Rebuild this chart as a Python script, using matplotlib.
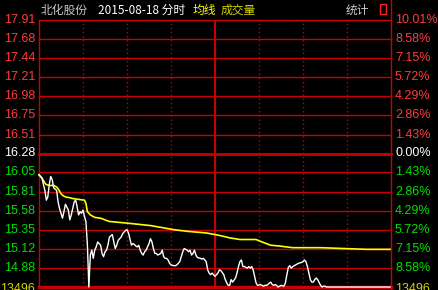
import matplotlib
matplotlib.use("Agg")
import matplotlib.pyplot as plt
from matplotlib.lines import Line2D
from matplotlib.patches import Rectangle

# ---- data ----
stock_name = "北化股份"
trade_date = "2015-08-18 分时"
pre_close = 16.28
limit_up = 17.91
limit_down = 14.65

price_labels = ["17.91", "17.68", "17.44", "17.21", "16.98", "16.75", "16.51",
                "16.28",
                "16.05", "15.81", "15.58", "15.35", "15.12", "14.88"]
pct_labels = ["10.01%", "8.58%", "7.15%", "5.72%", "4.29%", "2.86%", "1.43%",
              "0.00%",
              "1.43%", "2.86%", "4.29%", "5.72%", "7.15%", "8.58%"]
vol_label = "13496"

# minute index (0..240) and last price
price_t = [0, 2, 4, 5, 6, 7, 8, 9, 10, 12, 13, 14, 16, 17, 18, 20, 21, 22, 23, 24,
           25, 26, 27, 28, 29, 30, 31, 32, 33, 34, 35, 36, 37, 38, 39, 40, 42, 43, 44,
           45, 46, 47, 48, 50, 51, 52, 53, 54, 55, 56, 57, 58, 59, 60, 61, 62, 63, 64,
           65, 66, 67, 68, 69, 70, 71, 72, 73, 74, 75, 76, 77, 78, 79, 80, 81, 83, 84,
           85, 86, 87, 88, 89, 90, 92, 93, 94, 95, 96, 97, 98, 99, 101, 102, 103, 104,
           105, 106, 107, 108, 110, 111, 112, 113, 114, 115, 116, 117, 118, 119, 120,
           122, 123, 124, 126, 127, 128, 129, 130, 131, 132, 134, 135, 136, 137, 138,
           139, 140, 142, 143, 144, 145, 146, 147, 148, 149, 151, 152, 153, 154, 155,
           156, 158, 159, 160, 161, 162, 163, 164, 165, 167, 168, 169, 170, 171, 172,
           173, 174, 175, 176, 177, 179, 180, 181, 182, 183, 184, 185, 186, 187, 188,
           189, 190, 192, 193, 194, 195, 196, 240]
price = [16.02, 15.98, 15.83, 15.71, 15.75, 15.90, 16.00, 15.96, 15.86, 15.83, 15.69,
         15.61, 15.49, 15.57, 15.66, 15.59, 15.47, 15.53, 15.61, 15.69,
         15.71, 15.63, 15.53, 15.57, 15.55, 15.59, 15.51, 15.45, 15.16, 14.65, 15.04,
         15.10, 15.00, 15.10, 15.14, 15.20, 15.16, 15.06, 15.02,
         15.08, 15.10, 15.16, 15.26, 15.29, 15.20, 15.12, 15.16, 15.22, 15.24, 15.26,
         15.30, 15.32, 15.34, 15.35, 15.31, 15.24, 15.16, 15.18,
         15.17, 15.15, 15.14, 15.16, 15.10, 15.06, 15.04, 15.08, 15.10, 15.14, 15.18,
         15.24, 15.20, 15.12, 15.06, 15.06, 15.04, 15.06, 15.10,
         15.02, 15.00, 15.00, 14.98, 14.94, 14.92, 14.91, 14.91, 14.92, 14.94, 14.96,
         15.02, 15.08, 15.12, 15.10, 15.08, 15.10, 15.04,
         15.06, 15.10, 15.04, 15.01, 15.00, 14.99, 15.00, 14.98, 14.96, 14.86, 14.82,
         14.80, 14.82, 14.80, 14.78,
         14.82, 14.86, 14.85, 14.80, 14.74, 14.70, 14.67, 14.67, 14.74, 14.71, 14.76,
         14.82, 14.90, 14.96, 14.98,
         14.90, 14.90, 14.88, 14.90, 14.88, 14.90, 14.86, 14.78, 14.70, 14.67, 14.68,
         14.67, 14.66, 14.67, 14.67,
         14.68, 14.71, 14.68, 14.67, 14.68, 14.67, 14.65, 14.66, 14.67, 14.66, 14.70,
         14.80, 14.89, 14.91, 14.88,
         14.90, 14.91, 14.92, 14.93, 14.94, 14.95, 14.96, 14.98, 14.96, 14.90, 14.82,
         14.74, 14.71, 14.71, 14.74,
         14.76, 14.74, 14.67, 14.65, 14.66, 14.66, 14.65, 14.65]

# average price line
avg_t = [0, 2, 4, 5, 7, 10, 12, 13, 15, 16, 18, 21, 23, 27, 31, 32, 33, 35, 38, 42,
         48, 60, 76, 92, 101, 114, 123, 130, 137, 148, 152, 158, 164, 173, 192, 223, 240]
avg = [16.02, 15.98, 15.92, 15.90, 15.89, 15.89, 15.87, 15.85, 15.79, 15.77, 15.75,
       15.74, 15.73, 15.72, 15.71, 15.67, 15.57, 15.53, 15.50, 15.49,
       15.45, 15.43, 15.40, 15.35, 15.33, 15.31, 15.28, 15.25, 15.23, 15.23, 15.20,
       15.16, 15.15, 15.13, 15.13, 15.11, 15.11]

half_hours = [30, 60, 90, 150, 180, 210]
noon = 120

# ---- drawing ----
W, H = 438, 290
RED_LINE = "#c80000"
RED_TXT = "#ff3c3c"
GREEN_TXT = "#00e000"
YELLOW = "#ffff00"
DK_YELLOW = "#d2d200"
CJK = ["Noto Sans CJK SC", "DejaVu Sans"]


def fx(x):
    return x / W


def fy(y):
    return 1 - y / H


fig = plt.figure(figsize=(W / 100, H / 100), dpi=100, facecolor="black")
ax = fig.add_axes([fx(39), fy(287), fx(391) - fx(39), fy(20) - fy(287)])
ax.set_facecolor("black")
ax.set_xlim(0, 240)
ax.set_ylim(limit_down, limit_up)
ax.axis("off")

# horizontal grid
for s in price_labels:
    v = float(s)
    lw = 2 if v == pre_close else 1
    ax.axhline(v, color=RED_LINE, lw=lw, clip_on=False, zorder=1)
ax.axhline(limit_down, color=RED_LINE, lw=2.5, clip_on=False, zorder=1)

# vertical grid
for t in half_hours:
    ax.axvline(t, color=RED_LINE, lw=1, ls=(0, (1, 2)), zorder=1)
ax.axvline(noon, color=RED_LINE, lw=1.5, zorder=1)
ax.axvline(0, color=RED_LINE, lw=1, clip_on=False, zorder=1)
fig.add_artist(Line2D([fx(391), fx(391)], [0, 1], color=RED_LINE, lw=1))

# lines
ax.plot(avg_t, avg, color=YELLOW, lw=1.2, zorder=3, clip_on=False)
ax.plot(price_t, price, color="white", lw=1.0, zorder=4, clip_on=False)

# axis labels
ytf = ax.get_yaxis_transform()
for s_p, s_c in zip(price_labels, pct_labels):
    v = float(s_p)
    if v > pre_close:
        c = RED_TXT
    elif v < pre_close:
        c = GREEN_TXT
    else:
        c = "white"
    ax.text(-4 / 352, v, s_p, transform=ytf, ha="right", va="center",
            color=c, fontsize=9, family="Liberation Sans")
    ax.text(1 + 4 / 352, v, s_c, transform=ytf, ha="left", va="center",
            color=c, fontsize=9, family="Liberation Sans")
ax.text(-4 / 352, limit_down - 0.02, vol_label, transform=ytf, ha="right",
        va="center", color=DK_YELLOW, fontsize=9, family="Liberation Sans")
ax.text(1 + 4 / 352, limit_down - 0.02, vol_label, transform=ytf, ha="left",
        va="center", color=DK_YELLOW, fontsize=9, family="Liberation Sans")

# header
fig.text(fx(41), fy(10), stock_name, color="#c8c8c8", fontsize=8.5, family=CJK,
         va="center")
fig.text(fx(98), fy(10), trade_date, color="white", fontsize=8.5, family=CJK,
         va="center")
fig.text(fx(193), fy(10), "均线", color=YELLOW, fontsize=8.5, family=CJK,
         va="center")
fig.text(fx(221), fy(10), "成交量", color=DK_YELLOW, fontsize=8.5, family=CJK,
         va="center")
fig.text(fx(346), fy(10), "统计", color="#c8c8c8", fontsize=8.5, family=CJK,
         va="center")
fig.add_artist(Rectangle((fx(380), fy(14)), fx(6), 10 / H, fill=False,
                         edgecolor="#ff2020", lw=1))

fig.savefig("out.png", dpi=100, facecolor="black")
